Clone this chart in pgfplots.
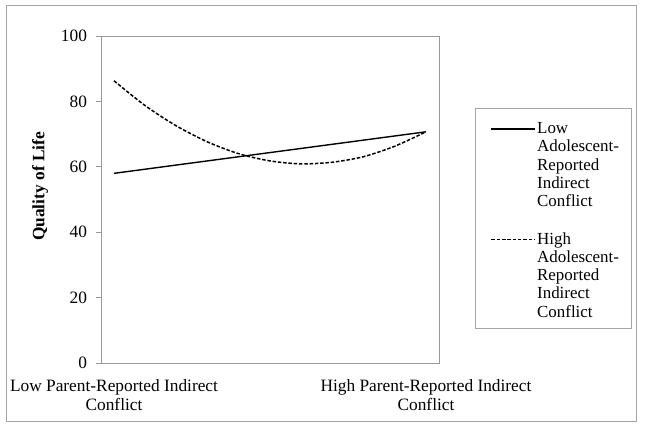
\documentclass[border=0pt]{standalone}
\usepackage{pgfplots}
\pgfplotsset{compat=1.18}
\usepackage{fontspec}
\setmainfont{Liberation Serif}
\begin{document}
\begin{tikzpicture}
\useasboundingbox (0bp,0bp) rectangle (645bp,427bp);
\fill[white] (0bp,0bp) rectangle (645bp,427bp);
\draw[gray!70, line width=0.9bp] (6bp,6bp) rectangle (636bp,422bp);
\begin{axis}[
  at={(101bp,64bp)}, anchor=south west,
  scale only axis, width=338bp, height=327bp,
  xmin=-0.0417, xmax=1.0417, ymin=0, ymax=100,
  /pgf/number format/assume math mode=true,
  xtick={0,1},
  xticklabels={{Low Parent-Reported Indirect\\Conflict},{High Parent-Reported Indirect\\Conflict}},
  xticklabel style={align=center, font=\fontsize{17.4}{20}\selectfont, yshift=-8bp},
  xtick style={draw=none},
  ytick={0,20,40,60,80,100},
  yticklabel style={font=\fontsize{17.4}{20}\selectfont, xshift=-6bp},
  ytick pos=left, xtick pos=bottom,
  tick align=outside, major tick length=4.5bp,
  ytick style={gray!80, line width=0.8bp},
  axis line style={gray!80, line width=0.8bp},
  ylabel={\textbf{Quality of Life}},
  ylabel style={font=\fontsize{17.4}{20}\selectfont, at={(axis description cs:-0.18,0.54)}, anchor=center},
  legend style={at={(1.1065,0.7798)}, anchor=north west, draw=gray!70, line width=0.8bp,
    font=\fontsize{17}{18.5}\selectfont, inner xsep=0bp, inner ysep=6bp, row sep=0bp,
    nodes={text height=12.5bp, text depth=3.5bp, inner ysep=1.15bp, inner xsep=1bp}},
  legend cell align=left,
]
\addplot[black, line width=1.4bp,
  legend image code/.code={\path[draw=none] (-16bp,0bp) -- (44bp,0bp);\draw[black, solid, line width=1.4bp] (0bp,-2.75bp) -- (44bp,-2.75bp);}]
  coordinates {(0,58.0) (1,70.7)};
\addlegendentry[text height=18bp]{Low}
\addlegendimage{empty legend}\addlegendentry{Adolescent-}
\addlegendimage{empty legend}\addlegendentry{Reported}
\addlegendimage{empty legend}\addlegendentry{Indirect}
\addlegendimage{empty legend}\addlegendentry[text depth=22.5bp]{Conflict}
\addplot[black, line width=1.5bp, dash pattern=on 3.5bp off 1.8bp, smooth,
  legend image code/.code={\path[draw=none] (-16bp,0bp) -- (44bp,0bp);\draw[black, line width=1.5bp, dash pattern=on 3.5bp off 1.8bp] (0bp,0bp) -- (44bp,0bp);}]
  coordinates {
  (0,86.3) (0.1,78.7) (0.2,72.5) (0.3,67.6) (0.4,64.0) (0.5,61.8)
  (0.6,60.9) (0.7,61.4) (0.8,63.1) (0.9,66.3) (1,70.7)};
\addlegendentry{High}
\addlegendimage{empty legend}\addlegendentry{Adolescent-}
\addlegendimage{empty legend}\addlegendentry{Reported}
\addlegendimage{empty legend}\addlegendentry{Indirect}
\addlegendimage{empty legend}\addlegendentry[text width=93bp]{Conflict}
\end{axis}
\end{tikzpicture}
\end{document}
